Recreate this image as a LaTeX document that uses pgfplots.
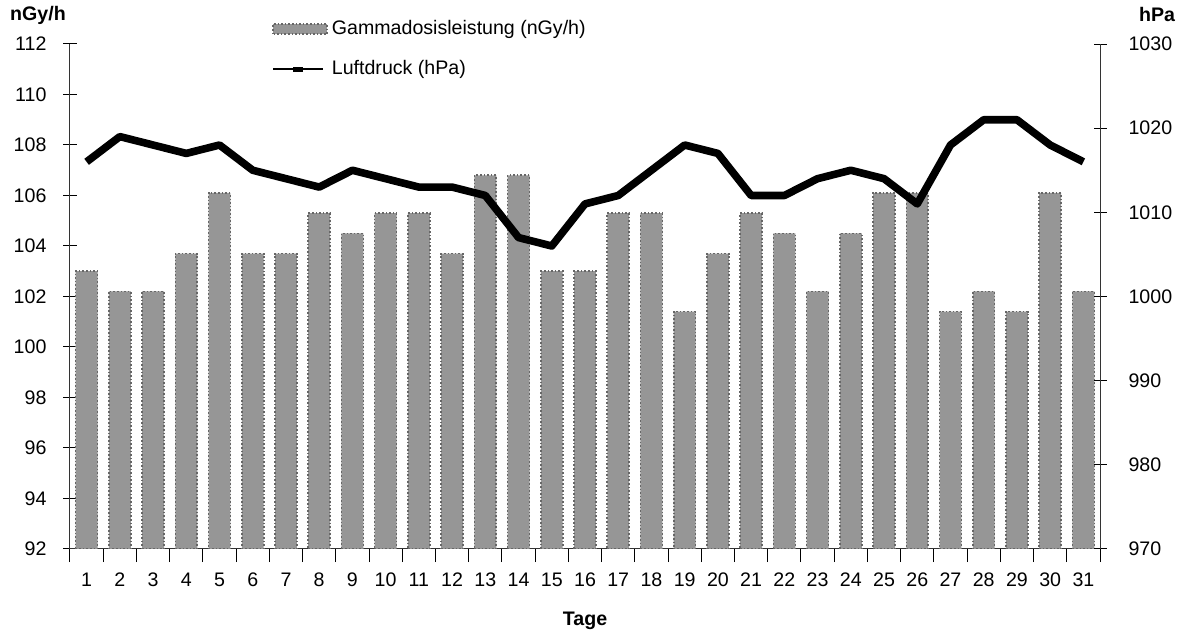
\documentclass[border=0pt]{standalone}
\usepackage{fontspec}
\setmainfont{Liberation Sans}
\usepackage{pgfplots}
\usepackage{pgfplotstable}
\pgfplotsset{compat=1.18}
\definecolor{bargray}{HTML}{969696}

\pgfplotstableread{
day gamma druck
1  103.0 1016
2  102.2 1019
3  102.2 1018
4  103.7 1017
5  106.1 1018
6  103.7 1015
7  103.7 1014
8  105.3 1013
9  104.5 1015
10 105.3 1014
11 105.3 1013
12 103.7 1013
13 106.8 1012
14 106.8 1007
15 103.0 1006
16 103.0 1011
17 105.3 1012
18 105.3 1015
19 101.4 1018
20 103.7 1017
21 105.3 1012
22 104.5 1012
23 102.2 1014
24 104.5 1015
25 106.1 1014
26 106.1 1011
27 101.4 1018
28 102.2 1021
29 101.4 1021
30 106.1 1018
31 102.2 1016
}\data

\begin{document}
\begin{tikzpicture}[font=\fontsize{9.8}{12}\selectfont]
\begin{axis}[
  name=left,
  scale only axis, width=515pt, height=252.5pt,
  xmin=0.5, xmax=31.5, ymin=92, ymax=112,
  axis x line*=bottom, axis y line*=left,
  axis line style={black!80, line width=0.5pt, -},
  xtick={1,...,31},
  minor xtick={0.5,1.5,...,31.5},
  major x tick style={draw=none},
  ytick={92,94,...,112},
  tick align=center, major tick length=6.5pt, minor tick length=6.5pt,
  tick style={black, line width=0.5pt},
  /pgf/number format/assume math mode=true,
  ticklabel style={font=\fontsize{9.8}{12}\selectfont},
  xticklabel style={yshift=-2pt},
  yticklabel style={xshift=-5pt},
  ybar, bar width=0.66, bar shift=0pt,
]
\addplot[fill=bargray, draw=black!60, densely dotted, line width=0.8pt] table[x=day,y=gamma]{\data};
\end{axis}
\begin{axis}[
  scale only axis, width=515pt, height=252.5pt,
  xmin=0.5, xmax=31.5, ymin=970, ymax=1030,
  axis y line*=right, axis x line=none,
  axis line style={black!80, line width=0.5pt, -},
  ytick={970,980,...,1030},
  tick align=center, major tick length=6.5pt,
  tick style={black, line width=0.5pt},
  /pgf/number format/assume math mode=true,
  /pgf/number format/1000 sep={},
  ticklabel style={font=\fontsize{9.8}{12}\selectfont},
  yticklabel style={xshift=7.5pt},
  legend style={at={(0.19,1.063)}, anchor=north west, draw=none, fill=none,
    row sep=7.5pt, font=\fontsize{9.8}{12}\selectfont},
  legend cell align=left,
]
\addlegendimage{legend image code/.code={\draw[fill=bargray, draw=black!60, densely dotted, line width=0.8pt] (0pt,-2.5pt) rectangle (27pt,2.5pt);}}
\addlegendentry{Gammadosisleistung (nGy/h)}
\addplot[black, line width=3.8pt, line join=round,
  legend image code/.code={\draw[black, line width=1pt] (0pt,0pt) -- (25pt,0pt); \draw[black, line width=2.5pt] (10pt,0pt) -- (15pt,0pt);}]
  table[x=day,y=druck]{\data};
\addlegendentry{Luftdruck (hPa)}
\end{axis}
\node[font=\fontsize{9.8}{12}\selectfont\bfseries] at ([xshift=-16pt,yshift=14.5pt]left.north west) {nGy/h};
\node[font=\fontsize{9.8}{12}\selectfont\bfseries] at ([xshift=28.5pt,yshift=14.5pt]left.north east) {hPa};
\node[font=\fontsize{9.8}{12}\selectfont\bfseries] at ([yshift=-36pt]left.south) {Tage};
\pgfresetboundingbox
\path[use as bounding box] ([xshift=-35pt,yshift=-41pt]left.south west) rectangle ([xshift=41pt,yshift=22pt]left.north east);
\end{tikzpicture}
\end{document}
